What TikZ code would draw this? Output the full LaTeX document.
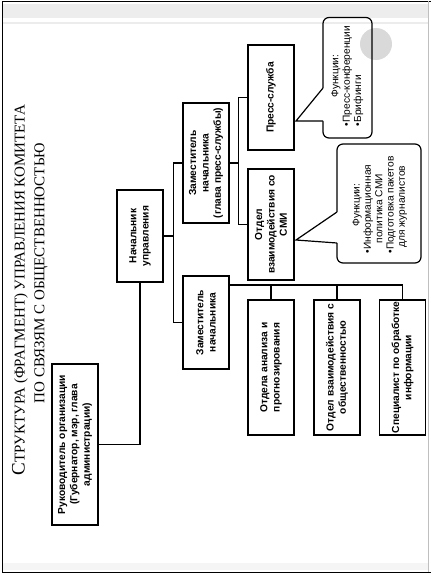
\documentclass[tikz,border=0pt]{standalone}
\usepackage{fontspec}
\setmainfont{Liberation Sans}
\newfontfamily\titlefont{Liberation Serif}
\usepackage{tikz}

\begin{document}
\begin{tikzpicture}[x=1pt,y=-1pt,
  box/.style={draw, line width=1.2pt, rotate=90, align=center, inner sep=0.5pt, minimum height=46, font=\fontsize{10.2}{12.3}\selectfont\bfseries},
  link/.style={line width=1.2pt},
  note/.style={rotate=90, inner sep=0pt, font=\fontsize{10.2}{11.3}\selectfont},
  heading/.style={rotate=90, inner sep=0pt, font=\titlefont\fontsize{15}{18}\selectfont}]
\useasboundingbox (0,0) rectangle (431,574);
\fill[gray!14] (3,4) rectangle (428,18);
\draw[gray!15, line width=1.5pt] (3,23) -- (428,23);
\fill[gray!8] (3,563) rectangle (428,570);
\draw[line width=0.8pt] (431,1) -- (2,1) -- (2,572) -- (431,572);
\draw[gray!50] (428,1) -- (428,572);
\fill[gray!30] (376,44) circle (16);

\node[heading] (Title1) at (20,290) {{\fontsize{19}{20}\selectfont С}ТРУКТУРА (ФРАГМЕНТ) УПРАВЛЕНИЯ КОМИТЕТА};
\node[heading] (Title2) at (41,273) {ПО СВЯЗЯМ С ОБЩЕСТВЕННОСТЬЮ};

\node[box, minimum width=161] (Head) at (75,444.5) {Руководитель организации\\(Губернатор, мэр, глава\\администрации)};
\node[box, minimum width=92] (Chief) at (140,236) {Начальник\\управления};
\node[box, minimum width=120] (DepPress) at (206,163) {Заместитель\\начальника\\(глава пресс-службы)};
\node[box, minimum width=93] (Dep) at (206,322.5) {Заместитель\\начальника};
\node[box, minimum width=105] (Press) at (271,97.5) {Пресс-служба};
\node[box, minimum width=111] (Media) at (271,224.5) {Отдел\\взаимодействия со\\СМИ};
\node[box, minimum width=135] (Analysis) at (271,367.5) {Отдела анализа и\\прогнозирования};
\node[box, minimum width=135] (Public) at (337,367.5) {Отдел взаимодействия с\\общественностью};
\node[box, minimum width=135] (Info) at (402.5,367.5) {Специалист по обработке\\информации};

\draw[link] (Head.south) -| (Chief.west);
\draw[link] (Chief.south) -- ++(10,0) coordinate (Bus1);
\draw[link] (DepPress.north) -| (Bus1) |- (Dep.north);
\draw[link] (DepPress.south) -- ++(9,0) coordinate (Bus2);
\draw[link] (Press.north) -| (Bus2) |- (Media.north);
\draw[link] (Dep.south) ++(0,-37.5) coordinate (Bus3) -| (Info.east);
\draw[link] (Bus3 -| Analysis.east) -- (Analysis.east);
\draw[link] (Bus3 -| Public.east) -- (Public.east);

\coordinate (Tip1) at (296,121);
\coordinate (Tip2) at (296,240);
\draw[link, rounded corners=6pt] (323,17.5) rectangle (372,138);
\fill[white] (Tip1) -- (323,88) -- (324.5,88) -- (324.5,121) -- cycle;
\draw[link] (323,88) -- (Tip1) -- (323,121);
\draw[link, rounded corners=6pt] (337,144) rectangle (421,263);
\fill[white] (Tip2) -- (337,212) -- (338.5,212) -- (338.5,243) -- cycle;
\draw[link] (337,212) -- (Tip2) -- (337,243);

\node[note] (Func1) at (347.5,76) {\begin{tabular}{@{}l@{}}\multicolumn{1}{@{}c@{}}{Функции:}\\•Пресс-конференции\\•Брифинги\end{tabular}};
\node[note] (Func2) at (380,205) {\begin{tabular}{@{}l@{}}\multicolumn{1}{@{}c@{}}{Функции:}\\•Информационная\\\hspace{1em}политика СМИ\\•Подготовка пакетов\\\hspace{0.6em}для журналистов\end{tabular}};
\end{tikzpicture}
\end{document}
